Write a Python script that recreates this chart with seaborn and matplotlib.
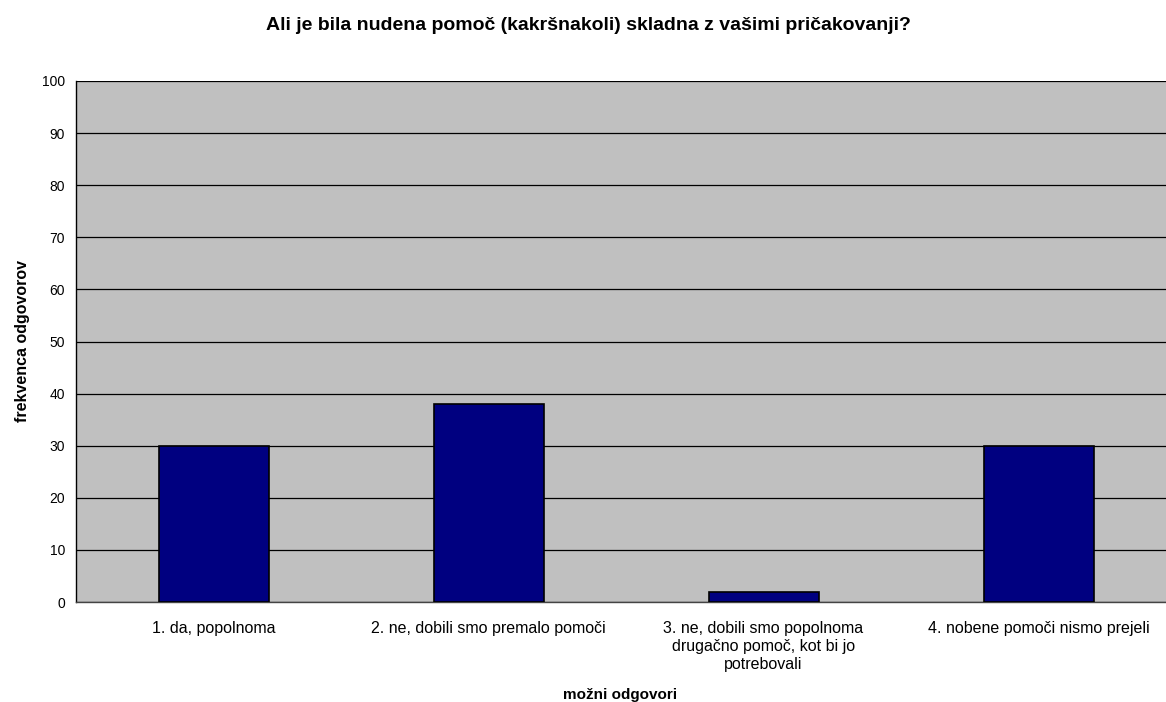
import matplotlib
matplotlib.use("Agg")
import matplotlib.pyplot as plt
import seaborn as sns
import pandas as pd

categories = ["1. da, popolnoma",
              "2. ne, dobili smo premalo pomoči",
              "3. ne, dobili smo popolnoma\ndrugačno pomoč, kot bi jo\npotrebovali",
              "4. nobene pomoči nismo prejeli"]
values = [30, 38, 2, 30]
title = "Ali je bila nudena pomoč (kakršnakoli) skladna z vašimi pričakovanji?"
xlabel = "možni odgovori"
ylabel = "frekvenca odgovorov"

sns.set_style("white")
plt.rcParams['font.family'] = ['Liberation Sans', 'DejaVu Sans']
plt.rcParams['text.color'] = 'black'
plt.rcParams['axes.labelcolor'] = 'black'
plt.rcParams['xtick.color'] = 'black'
plt.rcParams['ytick.color'] = 'black'

fig = plt.figure(figsize=(11.66, 7.02), dpi=100)
ax = fig.add_axes([76/1166, 1 - 602/702, (1176 - 76)/1166, (602 - 81)/702])
ax.set_facecolor("#C0C0C0")

df = pd.DataFrame({"cat": categories, "val": values})
sns.barplot(data=df, x="cat", y="val", ax=ax, width=0.4, color="#000080",
            edgecolor="black", linewidth=1.2, saturation=1, zorder=3)

ax.set_ylim(0, 100)
ax.set_xlim(-0.5, 3.5)
ax.set_yticks(range(0, 101, 10))
ax.yaxis.grid(True, color="black", linewidth=0.9, zorder=0)
ax.set_axisbelow(True)
ax.tick_params(axis="y", direction="out", length=5, width=0.8, colors="black",
               labelsize=10, pad=3)
ax.tick_params(axis="x", which="major", length=0, labelsize=11.5, pad=14,
               labelcolor="black")
ax.set_xticks([0.5, 1.5, 2.5], minor=True)
ax.tick_params(axis="x", which="minor", direction="out", length=5, width=0.8, color="#555555")
for lbl in ax.get_xticklabels():
    lbl.set_linespacing(1.25)

for s in ["top", "right"]:
    ax.spines[s].set_visible(False)
ax.spines["left"].set_color("black")
ax.spines["left"].set_linewidth(1.0)
ax.spines["bottom"].set_color("#444444")
ax.spines["bottom"].set_linewidth(1.0)

ax.set_xlabel(xlabel, fontsize=11, fontweight="bold", color="black")
ax.xaxis.label.set_verticalalignment("baseline")
ax.xaxis.set_label_coords(544/1100, (602 - 699)/521)
ax.set_ylabel(ylabel, fontsize=11.5, fontweight="bold", color="black")
ax.yaxis.label.set_verticalalignment("center")
ax.yaxis.set_label_coords(-(76 - 23)/1100, 0.5)
fig.text(588/1166, 1 - 30/702, title, ha="center", va="baseline",
         fontsize=14, fontweight="bold", color="black")

fig.savefig("out.png", dpi=100)
